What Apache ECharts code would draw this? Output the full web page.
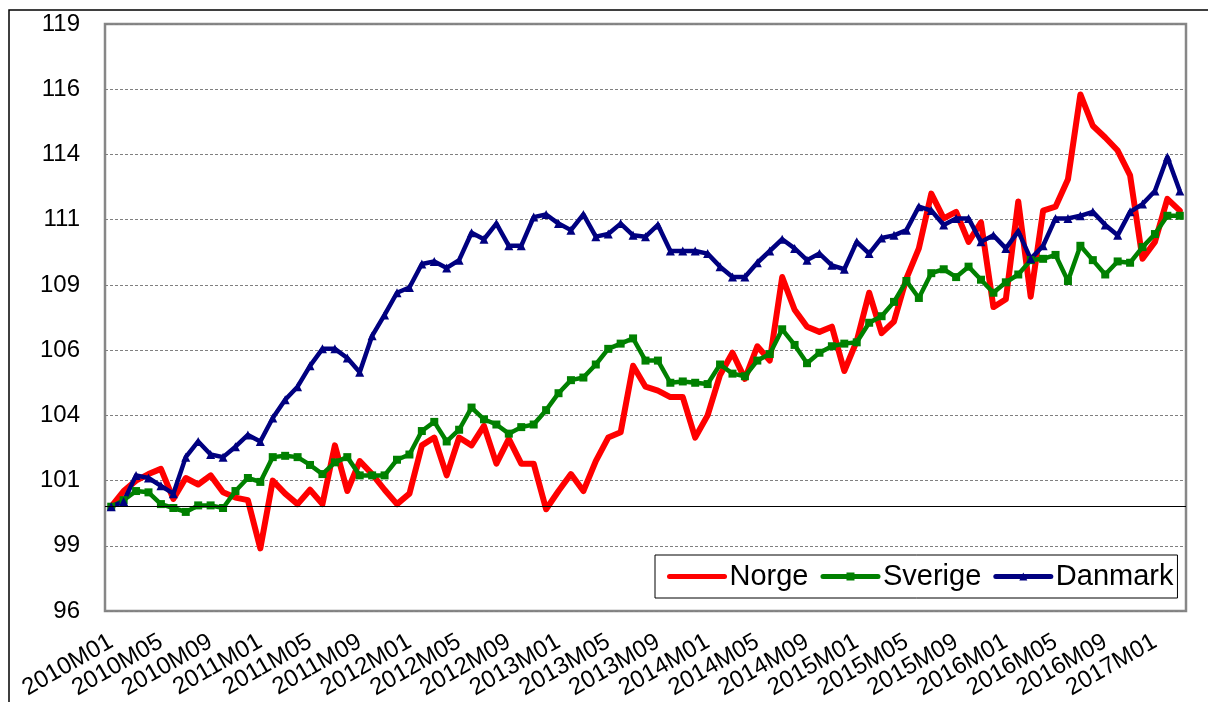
<!DOCTYPE html>
<html>
<head>
<meta charset="utf-8">
<script src="https://cdn.jsdelivr.net/npm/echarts@6/dist/echarts.min.js"></script>
<style>
  html, body { margin: 0; padding: 0; background: #fff; }
  #chart { width: 1208px; height: 702px; }
</style>
</head>
<body>
<div id="chart"></div>
<script>
// monthly categories 2010M01 .. 2017M03
const months = []
for (let y = 2010; y <= 2017; y++) {
  for (let m = 1; m <= 12; m++) {
    if (y === 2017 && m > 3) break
    months.push(y + 'M' + (m < 10 ? '0' + m : m))
  }
}

const norge = [
  100, 100.6, 101.0, 101.25, 101.45, 100.3, 101.1, 100.85, 101.2, 100.55, 100.35, 100.25,
  98.4, 101.0, 100.5, 100.1, 100.65, 100.1, 102.35, 100.6, 101.75, 101.25, 100.65, 100.1,
  100.5, 102.35, 102.65, 101.2, 102.65, 102.35, 103.1, 101.65, 102.6, 101.65, 101.65, 99.9,
  100.6, 101.25, 100.6, 101.75, 102.65, 102.85, 105.4, 104.6, 104.45, 104.2, 104.2, 102.65,
  103.5, 105.05, 105.9, 104.9, 106.15, 105.6, 108.8, 107.55, 106.9, 106.7, 106.9, 105.2,
  106.35, 108.2, 106.65, 107.1, 108.75, 109.9, 112.0, 111.05, 111.3, 110.15, 110.9, 107.65,
  107.95, 111.7, 108.05, 111.35, 111.5, 112.55, 115.8, 114.6, 114.15, 113.65, 112.7, 109.5,
  110.15, 111.8, 111.35,
]

const sverige = [
  100, 100.25, 100.6, 100.55, 100.1, 99.95, 99.8, 100.05, 100.05, 99.95, 100.6, 101.1,
  100.95, 101.9, 101.95, 101.9, 101.6, 101.25, 101.7, 101.9, 101.2, 101.2, 101.2, 101.8,
  102.0, 102.9, 103.25, 102.5, 102.95, 103.8, 103.35, 103.15, 102.8, 103.05, 103.15, 103.7,
  104.35, 104.85, 104.95, 105.45, 106.05, 106.25, 106.45, 105.6, 105.6, 104.75, 104.8, 104.75,
  104.7, 105.45, 105.1, 105.0, 105.6, 105.85, 106.8, 106.2, 105.5, 105.9, 106.15, 106.25,
  106.3, 107.05, 107.3, 107.85, 108.65, 108.0, 108.95, 109.1, 108.8, 109.2, 108.7, 108.2,
  108.6, 108.9, 109.45, 109.5, 109.65, 108.65, 110.0, 109.45, 108.9, 109.4, 109.35, 109.95,
  110.45, 111.15, 111.15,
]

const danmark = [
  100, 100.2, 101.2, 101.1, 100.8, 100.5, 101.9, 102.5, 102.0, 101.9, 102.3, 102.75,
  102.5, 103.4, 104.1, 104.6, 105.4, 106.05, 106.05, 105.7, 105.15, 106.55, 107.35, 108.2,
  108.4, 109.3, 109.4, 109.15, 109.45, 110.5, 110.25, 110.85, 110.0, 110.0, 111.1, 111.2,
  110.85, 110.6, 111.2, 110.35, 110.45, 110.85, 110.4, 110.35, 110.8, 109.8, 109.8, 109.8,
  109.7, 109.2, 108.8, 108.8, 109.35, 109.8, 110.25, 109.9, 109.45, 109.7, 109.25, 109.1,
  110.15, 109.7, 110.3, 110.4, 110.6, 111.5, 111.35, 110.8, 111.05, 111.05, 110.15, 110.4,
  109.9, 110.55, 109.5, 110.0, 111.05, 111.05, 111.15, 111.3, 110.8, 110.4, 111.3, 111.6,
  112.1, 113.4, 112.1,
]

// value axis runs 96 .. 118.5 in steps of 2.5, labels rounded like the original
const AXIS_MIN = 96
const AXIS_MAX = 118.5
const AXIS_STEP = 2.5
const BASE_LINE = 100

const shift = (arr) => arr.map((v) => +(v - AXIS_MIN).toFixed(3))
const font = '"Liberation Sans", Arial, sans-serif'

const chart = echarts.init(document.getElementById('chart'))

const option = {
  animation: false,
  backgroundColor: '#fff',
  graphic: [
    {
      type: 'polyline',
      shape: { points: [[9, 702], [9, 10], [1208, 10]] },
      style: { stroke: '#000', lineWidth: 1.5, fill: null },
      silent: true,
    },
  ],
  grid: {
    left: 105,
    right: 22,
    top: 24,
    bottom: 88,
    show: true,
    borderColor: '#878787',
    borderWidth: 2.5,
    backgroundColor: 'transparent',
  },
  legend: {
    left: 655,
    top: 555,
    orient: 'horizontal',
    backgroundColor: '#fff',
    borderColor: '#000',
    borderWidth: 1,
    borderRadius: 0,
    padding: [7, 4, 7, 12],
    itemGap: 12,
    itemWidth: 55,
    itemHeight: 10,
    lineStyle: { width: 5, cap: 'round' },
    textStyle: { fontSize: 29, color: '#000', fontFamily: font },
    data: [
      { name: 'Norge', itemStyle: { opacity: 0 } },
      { name: 'Sverige' },
      { name: 'Danmark' },
    ],
  },
  xAxis: {
    type: 'category',
    data: months,
    boundaryGap: true,
    axisLine: { show: false },
    axisTick: { show: false },
    axisLabel: {
      interval: 3,
      rotate: 30,
      margin: 29,
      fontSize: 24,
      color: '#000',
      fontFamily: font,
    },
  },
  yAxis: {
    type: 'value',
    min: 0,
    max: AXIS_MAX - AXIS_MIN,
    interval: AXIS_STEP,
    axisLine: { show: false },
    axisTick: { show: false },
    axisLabel: {
      margin: 25,
      fontSize: 24,
      color: '#000',
      fontFamily: font,
      formatter: (v) => String(Math.round(v + AXIS_MIN)),
    },
    splitLine: {
      lineStyle: { color: '#808080', width: 1, type: [3, 2] },
    },
  },
  series: [
    {
      name: 'Norge',
      type: 'line',
      data: shift(norge),
      symbol: 'circle',
      showSymbol: false,
      color: '#ff0000',
      lineStyle: { width: 6, color: '#ff0000', join: 'round', cap: 'round' },
      markLine: {
        silent: true,
        symbol: ['none', 'none'],
        label: { show: false },
        lineStyle: { color: '#000', width: 1.2, type: 'solid' },
        data: [{ yAxis: BASE_LINE - AXIS_MIN }],
      },
    },
    {
      name: 'Sverige',
      type: 'line',
      data: shift(sverige),
      symbol: 'rect',
      symbolSize: 8,
      showAllSymbol: true,
      color: '#008000',
      lineStyle: { width: 4.5, color: '#008000', join: 'round' },
    },
    {
      name: 'Danmark',
      type: 'line',
      data: shift(danmark),
      symbol: 'triangle',
      symbolSize: 9,
      showAllSymbol: true,
      color: '#000080',
      lineStyle: { width: 4.5, color: '#000080', join: 'round' },
    },
  ],
}

chart.setOption(option)

window.addEventListener('resize', () => {
  chart.resize()
})
</script>
</body>
</html>
